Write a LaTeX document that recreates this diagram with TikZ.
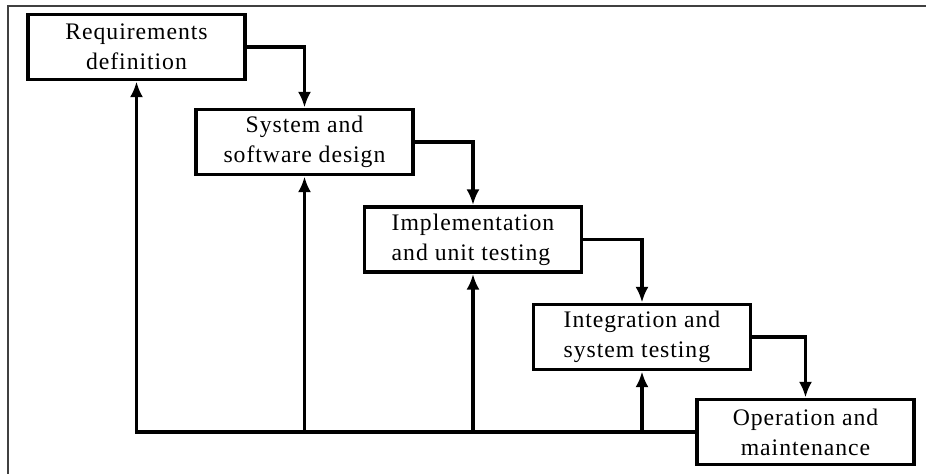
\documentclass[tikz,border=0pt]{standalone}
\usepackage{amsmath}
\usepackage[usenames,dvipsnames]{xcolor}
\usepackage{fontspec}
\setmainfont{Liberation Serif}[LetterSpace=4]
\usetikzlibrary{arrows.meta}

\tikzset{
	phase/.style={draw,line width=2.2pt,minimum width=4.34cm,minimum height=1.3cm,inner sep=2pt,font=\fontsize{13.5}{17}\selectfont},
	flow/.style={line width=2.2pt,-{Latex[length=9pt,width=7.5pt]}},
}

\begin{document}
\begin{tikzpicture}[x=0.02cm,y=0.02cm]
		\useasboundingbox (0,0) rectangle (926,474);
		\coordinate (f1) at (8,468);\coordinate (f2) at (926,468);
		\coordinate (f3) at (8,0);
		\draw[black!75,line width=0.6pt] (f2) -- (f1) -- (f3);
		\node[phase,align=center] (req) at (136.5,427) {Requirements\\definition};
		\node[phase,align=center] (sys) at (304.5,332) {System and\\software design};
		\node[phase,align=left] (imp) at (473,234.5) {Implementation\\and unit testing};
		\node[phase,align=left] (integ) at (642,137) {Integration and\\system testing};
		\node[phase,align=center] (ops) at (805.5,42) {Operation and\\maintenance};
		\draw[flow] (req.east) -| (sys.north);
		\draw[flow] (sys.east) -| (imp.north);
		\draw[flow] (imp.east) -| (integ.north);
		\draw[flow] (integ.east) -| (ops.north);
		\draw[flow] (ops.west) -| (req.south);
		\draw[flow] (ops.west -| sys.south) -- (sys.south);
		\draw[flow] (ops.west -| imp.south) -- (imp.south);
		\draw[flow] (ops.west -| integ.south) -- (integ.south);
	\end{tikzpicture}
\end{document}
